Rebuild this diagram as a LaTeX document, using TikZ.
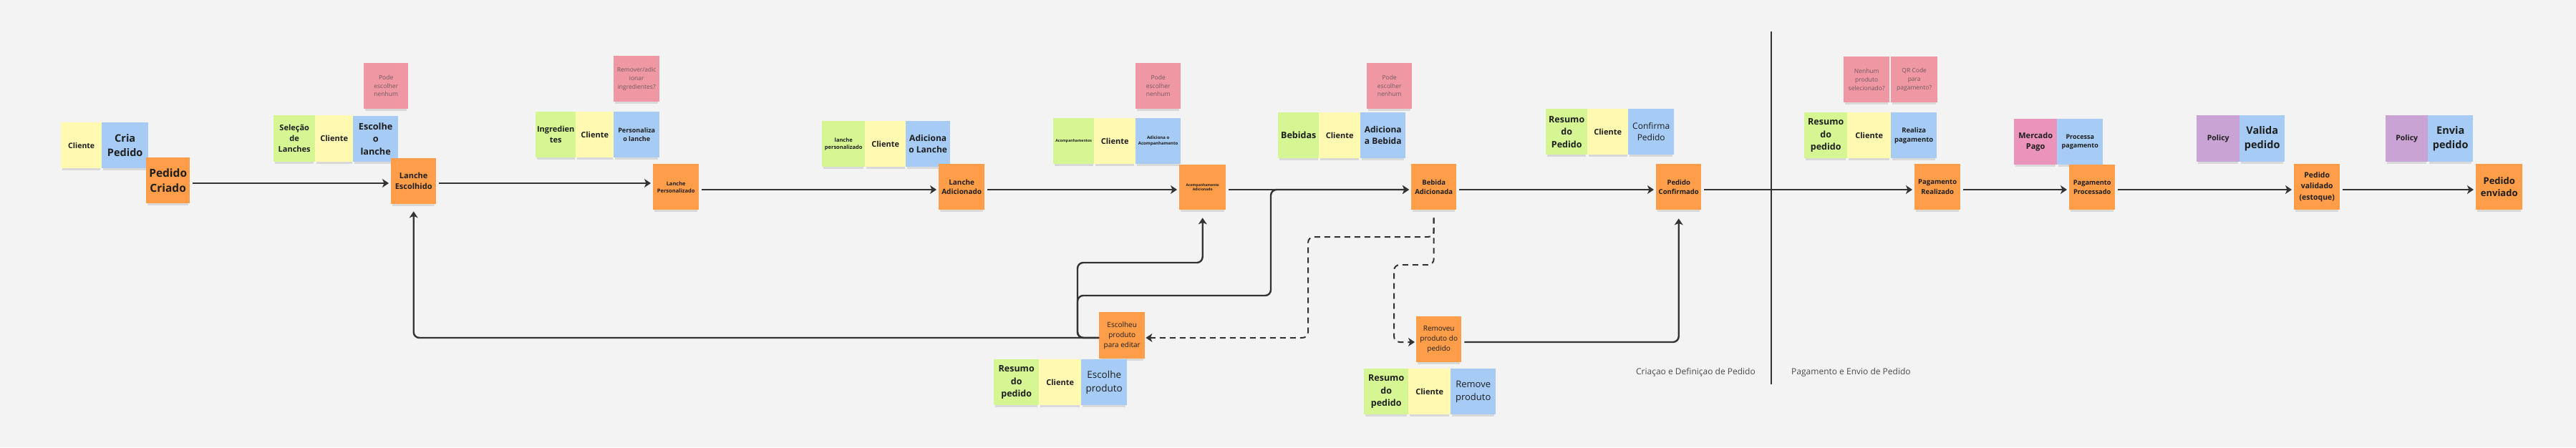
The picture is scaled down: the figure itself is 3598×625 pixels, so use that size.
\documentclass[tikz,border=0pt]{standalone}
\usepackage{fontspec}
\setmainfont{Open Sans}
\usetikzlibrary{arrows.meta,shadows}
\definecolor{bg}{HTML}{F3F3F3}
\definecolor{stYellow}{HTML}{FFF9B1}
\definecolor{stBlue}{HTML}{A6CCF5}
\definecolor{stGreen}{HTML}{D5F692}
\definecolor{stOrange}{HTML}{FF9D48}
\definecolor{stPink}{HTML}{EF97A3}
\definecolor{stMagenta}{HTML}{EA94BB}
\definecolor{stPurple}{HTML}{C9A3D3}
\definecolor{txt}{HTML}{1E1E1E}
\definecolor{txtPink}{HTML}{6F5B60}
\definecolor{txtSoft}{HTML}{34404D}
\definecolor{lc}{HTML}{333333}
\definecolor{lbl}{HTML}{4A4A4A}
\tikzset{
  note/.style={anchor=north west, inner sep=0pt, align=center, text=txt,
    drop shadow={shadow xshift=0pt, shadow yshift=-5pt, opacity=0.22, shadow scale=0.94}},
  yel/.style={note, fill=stYellow},
  blu/.style={note, fill=stBlue},
  grn/.style={note, fill=stGreen},
  org/.style={note, fill=stOrange},
  pnk/.style={note, fill=stPink, text=txtPink},
  mag/.style={note, fill=stMagenta},
  pur/.style={note, fill=stPurple},
  arr/.style={draw=lc, line width=2.4pt, rounded corners=8pt,
    -{Stealth[length=9pt,width=12pt,inset=2.5pt]}},
  dsh/.style={arr, line width=2pt, dash pattern=on 8pt off 6pt},
  sectlabel/.style={font=\fontsize{12}{16}\selectfont, text=lbl, inner sep=0pt}
}
\newcommand\stk[8]{%
  \pgfmathsetmacro\stkw{#5-#3}\pgfmathsetmacro\stkh{#6-#4}%
  \node[#2, minimum width=\stkw pt, minimum height=\stkh pt, font={#7}] (#1) at (#3,#4) {#8};}
\newcommand\Bf[2]{\bfseries\fontsize{#1}{#2}\selectfont}
\newcommand\Rg[2]{\fontsize{#1}{#2}\selectfont}
\begin{document}
\begin{tikzpicture}[x=1pt,y=-1pt]
\fill[bg] (0,0) rectangle (3598,625);
\useasboundingbox (0,0) rectangle (3598,625);

% --- group 1
\stk{c1}{yel}{85}{171}{142}{235}{\Bf{10.5}{14.3}}{Cliente}
\stk{a1}{blu}{142}{171}{207}{235}{\Bf{14.5}{20}}{Cria\\Pedido}
\stk{e1}{org}{204}{220}{265}{284}{\Bf{15.5}{21}}{Pedido\\Criado}

% --- group 2
\stk{p2}{pnk}{508}{88}{570}{152}{\Rg{8.5}{11.6}}{Pode\\escolher\\nenhum}
\stk{g2}{grn}{382}{161}{440}{226}{\Bf{11}{15}}{Seleção\\de\\Lanches}
\stk{c2}{yel}{440}{161}{493}{226}{\Bf{11}{15}}{Cliente}
\stk{a2}{blu}{493}{162}{556}{226}{\Bf{12.7}{17.3}}{Escolhe\\o\\lanche}
\stk{e2}{org}{546}{221}{609}{285}{\Bf{11}{15}}{Lanche\\Escolhido}

% --- group 3
\stk{p3}{pnk}{857}{78}{921}{142}{\Rg{8.5}{11.6}}{Remover/adic\\ionar\\ingredientes?}
\stk{g3}{grn}{748}{156}{804}{220}{\Bf{11}{15}}{Ingredien\\tes}
\stk{c3}{yel}{804}{156}{857}{220}{\Bf{11}{15}}{Cliente}
\stk{a3}{blu}{857}{156}{921}{220}{\Bf{9}{12.2}}{Personaliza\\o lanche}
\stk{e3}{org}{912}{229}{976}{293}{\Bf{7.5}{10}}{Lanche\\Personalizado}

% --- group 4
\stk{g4}{grn}{1148}{169}{1208}{233}{\Bf{7.5}{10}}{lanche\\personalizado}
\stk{c4}{yel}{1208}{169}{1265}{233}{\Bf{11}{15}}{Cliente}
\stk{a4}{blu}{1265}{169}{1327}{233}{\Bf{12}{16.3}}{Adiciona\\o Lanche}
\stk{e4}{org}{1311}{229}{1375}{293}{\Bf{10}{13.4}}{Lanche\\Adicionado}

% --- group 5
\stk{p5}{pnk}{1586}{88}{1649}{152}{\Rg{8.5}{11.6}}{Pode\\escolher\\nenhum}
\stk{g5}{grn}{1471}{165}{1528}{229}{\Bf{5.2}{7}}{Acompanhamentos}
\stk{c5}{yel}{1528}{165}{1586}{229}{\Bf{11}{15}}{Cliente}
\stk{a5}{blu}{1586}{165}{1649}{229}{\Bf{6}{8}}{Adiciona o\\Acompanhamento}
\stk{e5}{org}{1647}{230}{1712}{293}{\Bf{5}{6.8}}{Acompanhamento\\Adicionado}

% --- group 6
\stk{p6}{pnk}{1909}{88}{1972}{152}{\Rg{8.5}{11.6}}{Pode\\escolher\\nenhum}
\stk{g6}{grn}{1785}{157}{1842}{221}{\Bf{12.5}{17}}{Bebidas}
\stk{c6}{yel}{1842}{157}{1900}{221}{\Bf{11}{15}}{Cliente}
\stk{a6}{blu}{1900}{157}{1963}{221}{\Bf{12}{16}}{Adiciona\\a Bebida}
\stk{e6}{org}{1971}{229}{2034}{293}{\Bf{9.5}{13}}{Bebida\\Adicionada}

% --- group 7
\stk{g7}{grn}{2159}{152}{2217}{216}{\Bf{12.5}{17.5}}{Resumo\\do\\Pedido}
\stk{c7}{yel}{2217}{152}{2274}{216}{\Bf{11}{15}}{Cliente}
\stk{a7}{blu}{2274}{152}{2338}{216}{\color{txtSoft}\Rg{12}{16}}{Confirma\\Pedido}
\stk{e7}{org}{2313}{229}{2376}{293}{\Bf{9.5}{13}}{Pedido\\Confirmado}

% --- group 8
\stk{p8a}{pnk}{2575}{79}{2639}{143}{\Rg{8.5}{11.7}}{Nenhum\\produto\\selecionado?}
\stk{p8b}{pnk}{2641}{79}{2706}{143}{\Rg{8.5}{11.7}}{QR Code\\para\\pagamento?}
\stk{g8}{grn}{2520}{157}{2580}{221}{\Bf{12.5}{17.7}}{Resumo\\do\\pedido}
\stk{c8}{yel}{2580}{157}{2641}{221}{\Bf{11}{15}}{Cliente}
\stk{a8}{blu}{2641}{157}{2705}{221}{\Bf{9.5}{13.3}}{Realiza\\pagamento}
\stk{e8}{org}{2674}{229}{2738}{293}{\Bf{9.5}{13.3}}{Pagamento\\Realizado}

% --- group 9
\stk{m9}{mag}{2813}{166}{2873}{230}{\Bf{11}{15}}{Mercado\\Pago}
\stk{a9}{blu}{2873}{166}{2937}{230}{\Bf{9}{12.3}}{Processa\\pagamento}
\stk{e9}{org}{2890}{230}{2954}{293}{\Bf{9.3}{13}}{Pagamento\\Processado}

% --- group 10
\stk{q10}{pur}{3068}{161}{3128}{226}{\Bf{10.5}{14}}{Policy}
\stk{a10}{blu}{3128}{161}{3191}{226}{\Bf{14.5}{20}}{Valida\\pedido}
\stk{e10}{org}{3204}{229}{3268}{293}{\Bf{10.5}{15.3}}{Pedido\\validado\\(estoque)}

% --- group 11
\stk{q11}{pur}{3332}{161}{3391}{226}{\Bf{10.5}{14}}{Policy}
\stk{a11}{blu}{3391}{161}{3454}{226}{\Bf{14.5}{20}}{Envia\\pedido}
\stk{e11}{org}{3458}{229}{3523}{293}{\Bf{13}{17.7}}{Pedido\\enviado}

% --- lower groups
\stk{esc}{org}{1535}{436}{1599}{501}{\Rg{10}{13.7}}{Escolheu\\produto\\para editar}
\stk{g12}{grn}{1388}{502}{1451}{566}{\Bf{12.5}{17.7}}{Resumo\\do\\pedido}
\stk{c12}{yel}{1451}{502}{1510}{566}{\Bf{11}{15}}{Cliente}
\stk{a12}{blu}{1510}{502}{1574}{566}{\color{txtSoft}\Rg{13.5}{19.3}}{Escolhe\\produto}

\stk{rem}{org}{1978}{442}{2041}{506}{\Rg{10}{13.7}}{Removeu\\produto do\\pedido}
\stk{g13}{grn}{1905}{515}{1967}{579}{\Bf{12.5}{17.3}}{Resumo\\do\\pedido}
\stk{c13}{yel}{1967}{515}{2026}{579}{\Bf{11}{15}}{Cliente}
\stk{a13}{blu}{2026}{515}{2089}{579}{\color{txtSoft}\Rg{13}{18}}{Remove\\produto}

% --- divider and section labels
\coordinate (divtop) at (2474,44);
\coordinate (divbot) at (2474,537);
\draw[draw=lc, line width=1.5pt] (divtop) -- (divbot);
\node[sectlabel, anchor=east] (lab1) at (2452,520) {Criaçao e Definiçao de Pedido};
\node[sectlabel, anchor=west] (lab2) at (2502,520) {Pagamento e Envio de Pedido};

% --- main flow
\draw[arr, shorten <=4pt, shorten >=3pt] (e1.east |- 0,256) -- (e2.west |- 0,256);
\draw[arr, shorten <=4pt, shorten >=3pt] (e2.east |- 0,256) -- (e3.west |- 0,256);
\draw[arr, shorten <=4pt, shorten >=3pt] (e3.east |- 0,265) -- (e4.west |- 0,265);
\draw[arr, shorten <=4pt, shorten >=3pt] (e4.east |- 0,265) -- (e5.west |- 0,265);
\draw[arr, shorten <=4pt, shorten >=3pt] (e5.east |- 0,265) -- (e6.west |- 0,265);
\draw[arr, shorten <=4pt, shorten >=3pt] (e6.east |- 0,265) -- (e7.west |- 0,265);
\draw[arr, shorten <=4pt, shorten >=3pt] (e7.east |- 0,265) -- (e8.west |- 0,265);
\draw[arr, shorten <=4pt, shorten >=3pt] (e8.east |- 0,265) -- (e9.west |- 0,265);
\draw[arr, shorten <=4pt, shorten >=3pt] (e9.east |- 0,265) -- (e10.west |- 0,265);
\draw[arr, shorten <=4pt, shorten >=3pt] (e10.east |- 0,265) -- (e11.west |- 0,265);

% --- edit loop from "Escolheu produto para editar"
\draw[arr, shorten >=10pt] (esc.west |- 0,472) -- (e2.south |- 0,472) -- (e2.south);
\draw[arr, shorten >=11pt] (esc.west |- 0,472) -- (1505,472) -- (1505,367) -- (e5.south |- 0,367) -- (e5.south);
\draw[arr, shorten >=3pt] (esc.west |- 0,472) -- (1505,472) -- (1505,413) -- (1775,413) -- (1775,265) -- (e6.west |- 0,265);

% --- dashed alternatives from "Bebida Adicionada"
\draw[dsh, shorten <=11pt, shorten >=1pt] (e6.south) -- (e6.south |- 0,331) -- (1827,331) -- (1827,472) -- (esc.east |- 0,472);
\draw[dsh, shorten <=11pt, shorten >=2pt] (e6.south) -- (e6.south |- 0,370) -- (1947,370) -- (1947,478) -- (rem.west |- 0,478);

% --- removed product to confirmation
\draw[arr, shorten <=4pt, shorten >=12pt] (rem.east |- 0,478) -- (e7.south |- 0,478) -- (e7.south);
\end{tikzpicture}
\end{document}
